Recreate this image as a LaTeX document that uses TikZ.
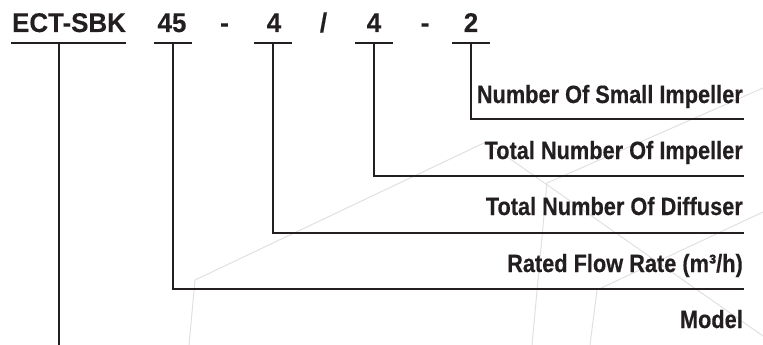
\documentclass[tikz,border=0pt]{standalone}
\usepackage{fontspec}
\setmainfont{Liberation Sans}
\newfontfamily\sidefont[FakeStretch=0.87,FakeBold=0.4]{Liberation Sans}
\newfontfamily\topfont[FakeStretch=0.96,FakeBold=0.3]{Liberation Sans}
\definecolor{ink}{HTML}{231F20}
\definecolor{faint}{HTML}{E0E0E0}
\begin{document}
\begin{tikzpicture}[x=1pt,y=-1pt,
  toplab/.style={anchor=base,inner sep=0pt,text=ink,font=\topfont\fontsize{27}{27}\selectfont\bfseries},
  sidelab/.style={anchor=base east,inner sep=0pt,text=ink,font=\sidefont\fontsize{25}{25}\selectfont\bfseries},
  conn/.style={draw=ink,line width=1.8pt},
  bg/.style={draw=faint,line width=1pt,line join=round}]
\useasboundingbox (0,0) rectangle (763,345);
% faint background pattern
\draw[bg] (189,345) -- (195,280) -- (486,142) -- (763,336);
\draw[bg] (532,345) -- (547,183) -- (763,88);
\draw[bg] (590,345) -- (597,290) -- (763,212);
% top code
\node[toplab] (t1) at (69,32) {ECT-SBK};
\node[toplab] (t2) at (172,32) {45};
\node[toplab] (d1) at (224.5,32) {-};
\node[toplab] (t3) at (274,32) {4};
\node[toplab] (s1) at (323.5,32) {/};
\node[toplab] (t4) at (374,32) {4};
\node[toplab] (d2) at (425,32) {-};
\node[toplab] (t5) at (471,32) {2};
% side labels
\node[sidelab] (l5) at (743,103) {Number Of Small Impeller};
\node[sidelab] (l4) at (743,159) {Total Number Of Impeller};
\node[sidelab] (l3) at (743,215) {Total Number Of Diffuser};
\node[sidelab] (l2) at (743,272) {Rated Flow Rate (m³/h)};
\node[sidelab] (l1) at (743,328) {Model};
% underline coordinates
\coordinate (a1) at (11,43);  \coordinate (b1) at (126,43); \coordinate (j1) at (59,43);
\coordinate (a2) at (154,43); \coordinate (b2) at (192,43); \coordinate (j2) at (173,43);
\coordinate (a3) at (254,43); \coordinate (b3) at (292,43); \coordinate (j3) at (273,43);
\coordinate (a4) at (355,43); \coordinate (b4) at (393,43); \coordinate (j4) at (374,43);
\coordinate (a5) at (452,43); \coordinate (b5) at (490,43); \coordinate (j5) at (471,43);
\coordinate (e1) at (59,345);
\coordinate (e2) at (744,289);
\coordinate (e3) at (744,233);
\coordinate (e4) at (744,176);
\coordinate (e5) at (744,119);
% underlines
\foreach \i in {1,...,5} { \draw[conn] (a\i) -- (b\i); }
% connectors
\draw[conn] (j1) -- (e1);
\draw[conn] (j2) |- (e2);
\draw[conn] (j3) |- (e3);
\draw[conn] (j4) |- (e4);
\draw[conn] (j5) |- (e5);
\end{tikzpicture}
\end{document}
